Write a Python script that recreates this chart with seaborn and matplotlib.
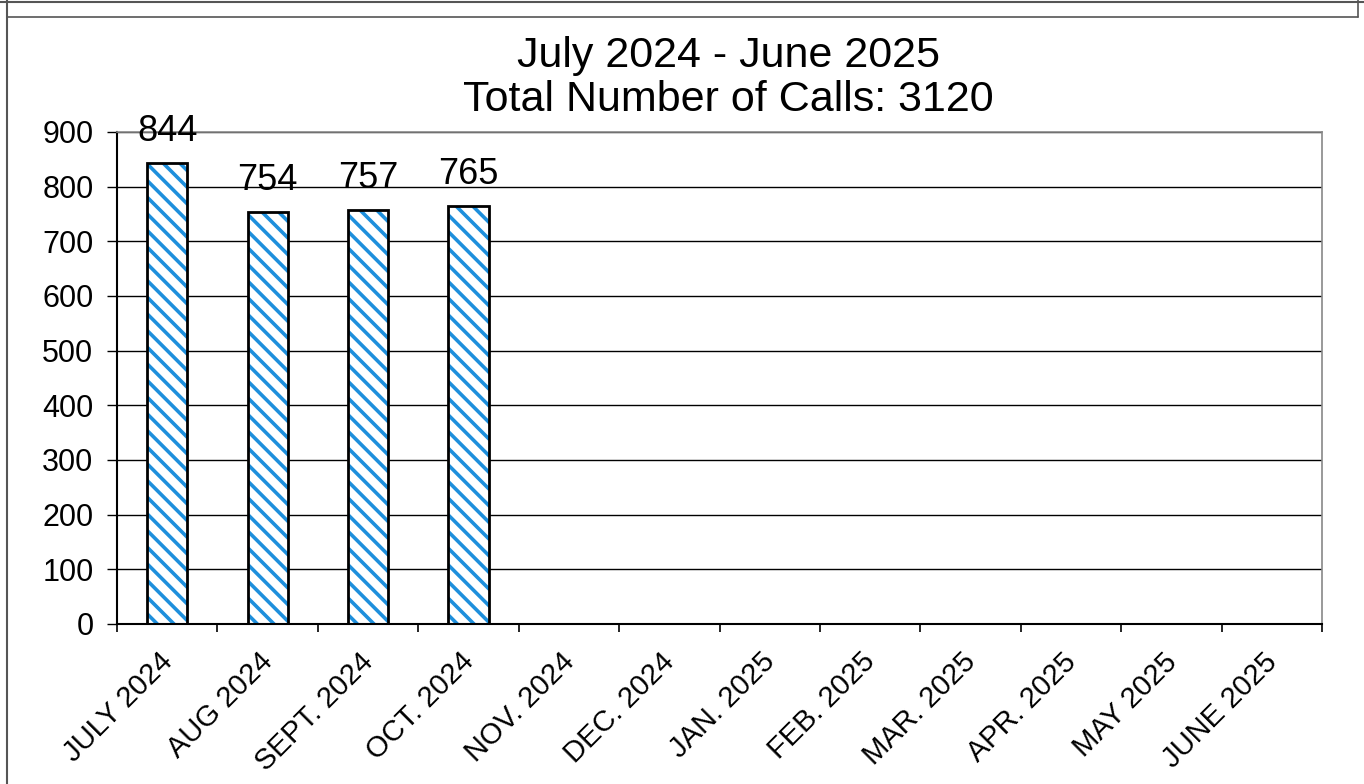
import numpy as np
import pandas as pd
import seaborn as sns
import matplotlib.pyplot as plt
import matplotlib.transforms as mtransforms
from matplotlib.lines import Line2D

# monthly call counts, fiscal year July 2024 - June 2025 (only 4 months reported so far)
months = ["JULY 2024", "AUG 2024", "SEPT. 2024", "OCT. 2024", "NOV. 2024", "DEC. 2024",
          "JAN. 2025", "FEB. 2025", "MAR. 2025", "APR. 2025", "MAY 2025", "JUNE 2025"]
calls = [844, 754, 757, 765, np.nan, np.nan, np.nan, np.nan, np.nan, np.nan, np.nan, np.nan]
total_calls = 3120
y_ticks = [0, 100, 200, 300, 400, 500, 600, 700, 800, 900]

df = pd.DataFrame({"month": months, "calls": calls})

sns.set_style("white")
plt.rcParams["font.family"] = ["Liberation Sans", "DejaVu Sans"]
plt.rcParams["hatch.linewidth"] = 2.6
plt.rcParams["text.color"] = "black"
plt.rcParams["xtick.color"] = "black"
plt.rcParams["ytick.color"] = "black"

fig = plt.figure(figsize=(13.64, 7.84), dpi=100)
ax = fig.add_axes([0.0858, 0.2041, 0.8834, 0.6276])

# hatched fill first, then a plain black outline on top
sns.barplot(data=df, x="month", y="calls", order=months, ax=ax, width=0.4,
            color="white", edgecolor="#1e8fdc", linewidth=0, hatch="\\\\", errorbar=None)
sns.barplot(data=df, x="month", y="calls", order=months, ax=ax, width=0.4,
            fill=False, edgecolor="black", linewidth=2, errorbar=None)

for bars in ax.containers[:1]:
    ax.bar_label(bars, labels=[f"{int(v)}" for v in calls if not np.isnan(v)],
                 padding=10, fontsize=26, color="black")

ax.set_ylim(0, 900)
ax.set_xlim(-0.5, len(months) - 0.5)
ax.set_yticks(y_ticks)
ax.tick_params(axis="y", labelsize=22, length=7, width=1, direction="out", left=True, pad=10)
ax.tick_params(axis="x", which="major", length=0, labelsize=21, pad=17)
ax.set_xticks(np.arange(-0.5, len(months)), minor=True)
ax.tick_params(axis="x", which="minor", length=6, width=1.2, direction="out", bottom=True)
plt.setp(ax.get_xticklabels(), rotation=45, ha="right", rotation_mode="anchor")
# nudge the slanted month labels a bit to the left
shift = mtransforms.ScaledTranslation(-0.09, 0, fig.dpi_scale_trans)
for lbl in ax.get_xticklabels():
    lbl.set_transform(lbl.get_transform() + shift)

ax.yaxis.grid(True, color="black", linewidth=1)
ax.set_axisbelow(True)
ax.set_xlabel("")
ax.set_ylabel("")

for side in ["top", "right"]:
    ax.spines[side].set_color("#888888")
    ax.spines[side].set_linewidth(1.2)
for side in ["left", "bottom"]:
    ax.spines[side].set_color("black")
    ax.spines[side].set_linewidth(1.5)

fig.text(0.534, 0.928, "July 2024 - June 2025", ha="center", va="center", fontsize=31)
fig.text(0.534, 0.873, f"Total Number of Calls: {total_calls}", ha="center", va="center", fontsize=31)

# scanned-page frame pieces around the chart
fig.add_artist(Line2D([0.005, 0.005], [0, 1], color="#555555", lw=1.5, transform=fig.transFigure))
fig.add_artist(Line2D([0.005, 0.9956], [0.978, 0.978], color="#555555", lw=1.2, transform=fig.transFigure))
fig.add_artist(Line2D([0, 1], [0.997, 0.997], color="#555555", lw=1.5, transform=fig.transFigure))
fig.add_artist(Line2D([0.9956, 0.9956], [0.978, 1], color="#555555", lw=1.2, transform=fig.transFigure))

plt.savefig("out.png", dpi=100)
